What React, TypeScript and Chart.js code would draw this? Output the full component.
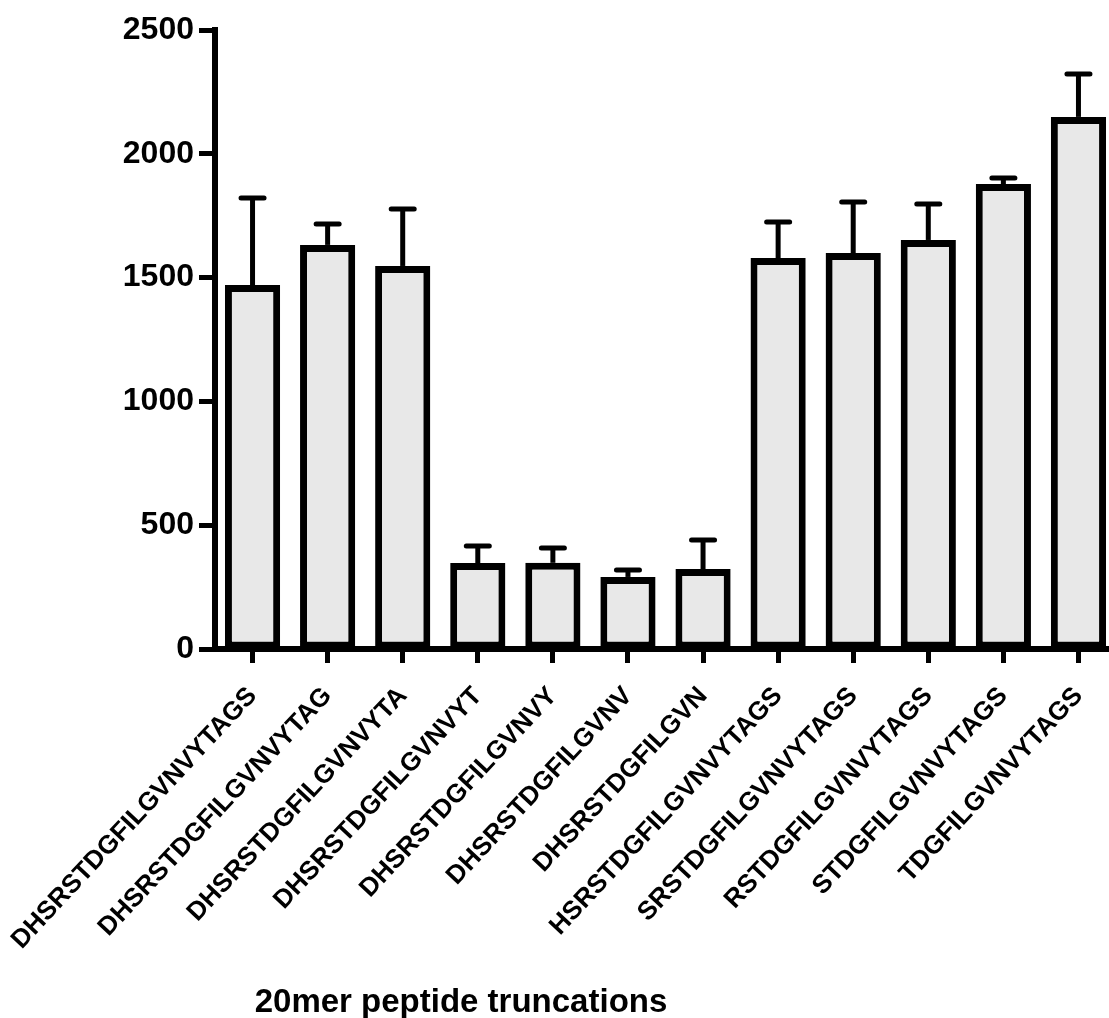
import { useEffect, useRef } from "react";
import { Chart, registerables } from "chart.js";

Chart.register(...registerables);

// Truncated peptide variants (x categories)
const peptides = [
  "DHSRSTDGFILGVNVYTAGS",
  "DHSRSTDGFILGVNVYTAG",
  "DHSRSTDGFILGVNVYTA",
  "DHSRSTDGFILGVNVYT",
  "DHSRSTDGFILGVNVY",
  "DHSRSTDGFILGVNV",
  "DHSRSTDGFILGVN",
  "HSRSTDGFILGVNVYTAGS",
  "SRSTDGFILGVNVYTAGS",
  "RSTDGFILGVNVYTAGS",
  "STDGFILGVNVYTAGS",
  "TDGFILGVNVYTAGS",
];

// Mean signal per peptide and its upper error
const meanSignal = [1470, 1632, 1547, 347, 348, 291, 323, 1579, 1599, 1652, 1878, 2149];
const signalError = [351, 84, 230, 69, 60, 28, 117, 146, 206, 145, 24, 173];

const yTickValues = [0, 500, 1000, 1500, 2000, 2500];
const xAxisTitle = "20mer peptide truncations";

const FONT = "'Liberation Sans', Arial, Helvetica, sans-serif";
const CANVAS_W = 1124;
const CANVAS_H = 1018;
const PLOT_LEFT = 215;
const PLOT_RIGHT = 1116;
const PLOT_TOP = 30;
const PLOT_BOTTOM = 649;
const TITLE_X = 461;
const TITLE_BASELINE = 1012;

const errorBarPlugin = {
  id: "upperErrorBars",
  afterDatasetsDraw(chart: any) {
    const { ctx } = chart;
    const y = chart.scales.y;
    const meta = chart.getDatasetMeta(0);
    ctx.save();
    ctx.strokeStyle = "#000";
    ctx.lineWidth = 5;
    meta.data.forEach((bar: any, i: number) => {
      const base = y.getPixelForValue(meanSignal[i]);
      const top = y.getPixelForValue(meanSignal[i] + signalError[i]);
      ctx.lineCap = "butt";
      ctx.beginPath();
      ctx.moveTo(bar.x, base);
      ctx.lineTo(bar.x, top);
      ctx.stroke();
      ctx.lineCap = "round";
      ctx.beginPath();
      ctx.moveTo(bar.x - 11.5, top);
      ctx.lineTo(bar.x + 11.5, top);
      ctx.stroke();
    });
    ctx.restore();
  },
};

const axisTitlePlugin = {
  id: "axisTitleText",
  afterDraw(chart: any) {
    const { ctx } = chart;
    ctx.save();
    ctx.fillStyle = "#000";
    ctx.font = `bold 33px ${FONT}`;
    ctx.textAlign = "center";
    ctx.textBaseline = "alphabetic";
    ctx.fillText(xAxisTitle, TITLE_X, TITLE_BASELINE);
    ctx.restore();
  },
};

export default function App() {
  const canvasRef = useRef<HTMLCanvasElement | null>(null);

  useEffect(() => {
    if (!canvasRef.current) return;
    const chart = new Chart(canvasRef.current, {
      type: "bar",
      data: {
        labels: peptides,
        datasets: [
          {
            data: meanSignal,
            backgroundColor: "#e8e8e8",
            borderColor: "#000",
            borderWidth: 7,
            borderSkipped: false,
            barPercentage: 0.735,
            categoryPercentage: 1,
          },
        ],
      },
      options: {
        responsive: false,
        animation: false,
        devicePixelRatio: 1,
        layout: {
          padding: { top: PLOT_TOP, left: 0, right: CANVAS_W - PLOT_RIGHT, bottom: 0 },
        },
        plugins: {
          legend: { display: false },
          tooltip: { enabled: false },
          title: { display: false },
        },
        scales: {
          x: {
            offset: true,
            grid: {
              offset: false,
              drawOnChartArea: false,
              drawTicks: true,
              tickLength: 14,
              tickWidth: 5,
              tickColor: "#000",
            },
            border: { display: true, color: "#000", width: 6 },
            ticks: {
              autoSkip: false,
              minRotation: 47,
              maxRotation: 47,
              padding: 18,
              color: "#000",
              font: { family: FONT, size: 26, weight: "bold" },
            },
            afterFit(scale: any) {
              scale.height = CANVAS_H - PLOT_BOTTOM;
              scale.paddingLeft = 0;
              scale.paddingRight = 0;
            },
          },
          y: {
            min: 0,
            max: 2500,
            grid: {
              drawOnChartArea: false,
              drawTicks: true,
              tickLength: 16,
              tickWidth: 5,
              tickColor: "#000",
            },
            border: { display: true, color: "#000", width: 6 },
            ticks: {
              padding: 5,
              color: "#000",
              font: { family: FONT, size: 32, weight: "bold" },
              callback: (value: any) => String(value),
            },
            afterBuildTicks(scale: any) {
              scale.ticks = yTickValues.map((v) => ({ value: v }));
            },
            afterFit(scale: any) {
              scale.width = PLOT_LEFT;
            },
          },
        },
      },
      plugins: [errorBarPlugin, axisTitlePlugin],
    });
    return () => chart.destroy();
  }, []);

  return (
    <div
      style={{
        position: "absolute",
        left: 0,
        top: 0,
        width: 1109,
        height: CANVAS_H,
        overflow: "hidden",
        background: "#fff",
      }}
    >
      <canvas ref={canvasRef} width={CANVAS_W} height={CANVAS_H} style={{ display: "block" }} />
    </div>
  );
}
